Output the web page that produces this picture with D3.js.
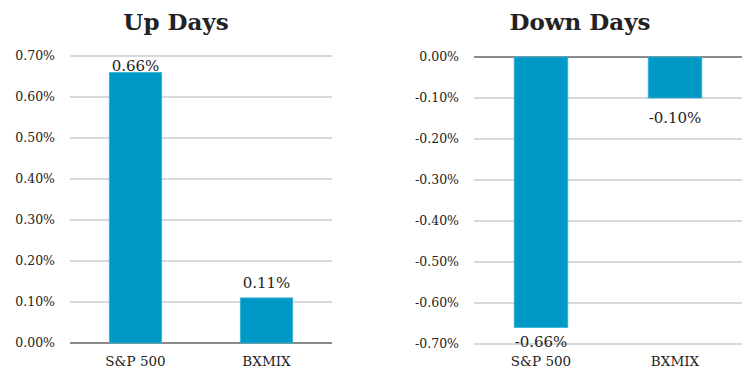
<!DOCTYPE html>
<html><head><meta charset="utf-8">
<script src="https://cdn.jsdelivr.net/npm/d3@7"></script>
<style>body{margin:0;background:#fff}svg{display:block}text{font-family:"DejaVu Serif","Liberation Serif",serif;fill:#222}</style>
</head><body><svg id="c" width="742" height="371"></svg>
<script>
const categories = ["S&P 500", "BXMIX"];
const upValues = [0.66, 0.11];
const downValues = [-0.66, -0.10];
const upTicks = [0, 0.1, 0.2, 0.3, 0.4, 0.5, 0.6, 0.7];
const downTicks = [0, -0.1, -0.2, -0.3, -0.4, -0.5, -0.6, -0.7];
const titles = ["Up Days", "Down Days"];

const svg = d3.select("#c");
const fmt = v => v.toFixed(2) + "%";

function panel(cfg) {
  const g = svg.append("g");
  const x = d3.scaleBand().domain(categories).range([cfg.x0, cfg.x1]).paddingInner(0.6).paddingOuter(0.3);
  const y = d3.scaleLinear().domain(cfg.domain).range(cfg.range);
  g.selectAll("line.grid").data(cfg.ticks).join("line")
    .attr("x1", cfg.x0).attr("x2", cfg.x1)
    .attr("y1", d => y(d)).attr("y2", d => y(d))
    .attr("stroke", d => d === 0 ? "#8a8a8a" : "#b4b4b4")
    .attr("stroke-width", d => d === 0 ? 2 : 1.2);
  g.selectAll("text.yt").data(cfg.ticks).join("text")
    .attr("x", cfg.x0 - 15).attr("y", d => y(d)).attr("dy", "0.35em")
    .attr("text-anchor", "end").attr("font-size", 12.5).text(fmt);
  g.selectAll("rect").data(cfg.values).join("rect")
    .attr("x", (d, i) => x(categories[i]))
    .attr("width", x.bandwidth())
    .attr("y", d => Math.min(y(d), y(0)))
    .attr("height", d => Math.abs(y(d) - y(0)))
    .attr("fill", "#0098c4").attr("stroke", "#3cb3d6").attr("stroke-width", 0.8);
  g.selectAll("text.vl").data(cfg.values).join("text")
    .attr("x", (d, i) => x(categories[i]) + x.bandwidth() / 2)
    .attr("y", (d, i) => cfg.labelY(d, i, y))
    .attr("text-anchor", "middle").attr("font-size", 15).text(fmt);
  g.selectAll("text.cat").data(categories).join("text")
    .attr("x", d => x(d) + x.bandwidth() / 2).attr("y", 366)
    .attr("text-anchor", "middle").attr("font-size", 13.5).text(d => d);
  g.append("text").attr("x", cfg.titleX).attr("y", 30)
    .attr("text-anchor", "middle").attr("font-size", 23).attr("font-weight", "bold").text(cfg.title);
}

panel({
  x0: 70, x1: 332, range: [343, 56], domain: [0, 0.7], ticks: upTicks, values: upValues,
  title: titles[0], titleX: 176,
  labelY: (d, i, y) => i === 0 ? y(d) - 1 : y(d) - 10
});
panel({
  x0: 474, x1: 742, range: [344, 57], domain: [-0.7, 0], ticks: downTicks, values: downValues,
  title: titles[1], titleX: 580,
  labelY: (d, i, y) => i === 0 ? y(d) + 19 : y(d) + 25
});
</script></body></html>
